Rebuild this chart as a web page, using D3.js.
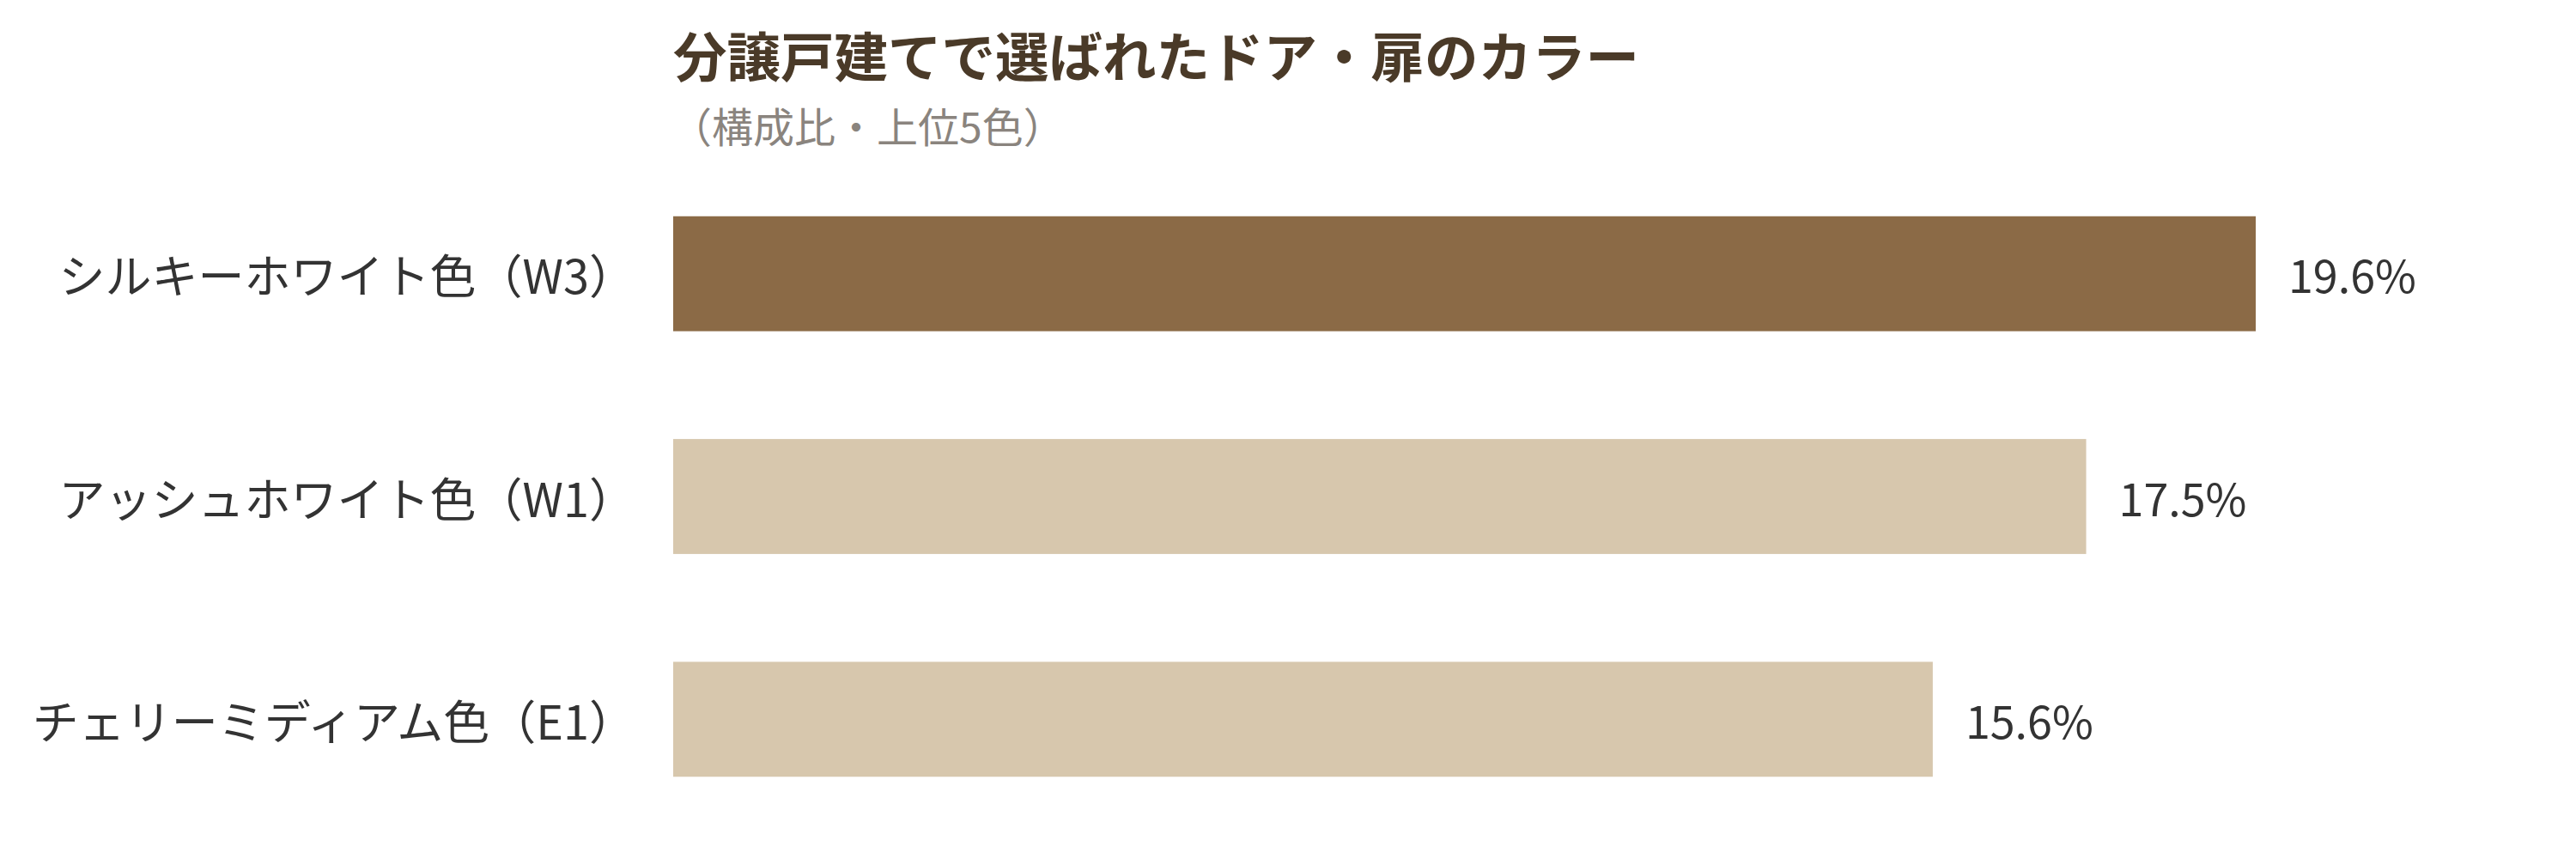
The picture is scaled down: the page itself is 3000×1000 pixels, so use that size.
<!DOCTYPE html>
<html lang="ja">
<head>
<meta charset="utf-8">
<script src="https://cdn.jsdelivr.net/npm/d3@7"></script>
<style>
  html, body { margin: 0; padding: 0; background: #fff; }
  text { font-family: "Noto Sans CJK JP", "Noto Sans", sans-serif; }
</style>
</head>
<body>
<div id="chart"></div>
<script>
const categories = ["シルキーホワイト色（W3）", "アッシュホワイト色（W1）", "チェリーミディアム色（E1）"];
const shares = [19.6, 17.5, 15.6];
const barColors = ["#8b6a46", "#d7c7ad", "#d7c7ad"];

const titleText = "分譲戸建てで選ばれたドア・扉のカラー";
const subtitleText = "（構成比・上位5色）";

const width = 3000;
const height = 1000;

const svg = d3.select("#chart")
    .append("svg")
    .attr("width", width)
    .attr("height", height);

// 横軸：0 から最大値まで
const x = d3.scaleLinear()
    .domain([0, d3.max(shares)])
    .range([784, 2627]);

const y = d3.scaleBand()
    .domain(categories)
    .range([189, 967])
    .paddingInner(0.484)
    .paddingOuter(0.242);

// タイトル
svg.append("text")
    .attr("x", 784)
    .attr("y", 90)
    .attr("font-size", 62.5)
    .attr("font-weight", 700)
    .attr("fill", "#4a3a28")
    .text(titleText);

svg.append("text")
    .attr("x", 781)
    .attr("y", 166)
    .attr("font-size", 48)
    .attr("fill", "#8a847e")
    .text(subtitleText);

// 棒
svg.selectAll(".bar")
    .data(shares)
    .join("rect")
    .attr("class", "bar")
    .attr("x", x(0))
    .attr("y", (d, i) => y(categories[i]))
    .attr("width", d => x(d) - x(0))
    .attr("height", y.bandwidth())
    .attr("fill", (d, i) => barColors[i]);

// 値ラベル
svg.selectAll(".value")
    .data(shares)
    .join("text")
    .attr("class", "value")
    .attr("x", d => x(d) + 38)
    .attr("y", (d, i) => y(categories[i]) + y.bandwidth() / 2)
    .attr("dominant-baseline", "central")
    .attr("font-size", 52)
    .attr("fill", "#333")
    .text(d => d.toFixed(1) + "%");

// カテゴリラベル
const yAxis = d3.axisLeft(y).tickSize(0).tickPadding(0);
const axisG = svg.append("g")
    .attr("transform", `translate(${x(0) - 44},0)`)
    .call(yAxis);
axisG.select(".domain").remove();
axisG.selectAll("text")
    .attr("font-size", 54)
    .attr("fill", "#333")
    .attr("font-family", "'Noto Sans CJK JP', sans-serif")
    .attr("dy", null)
    .attr("dominant-baseline", "central");
</script>
</body>
</html>
